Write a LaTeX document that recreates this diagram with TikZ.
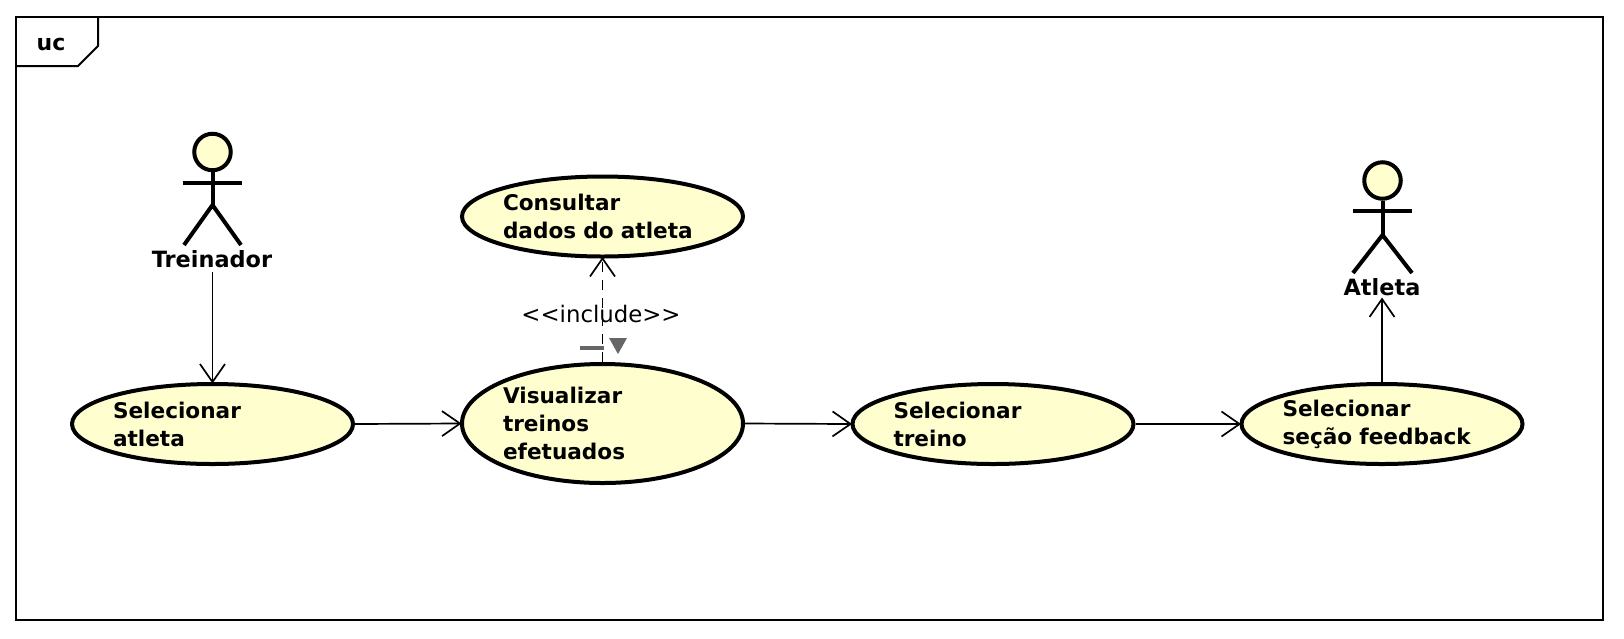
\documentclass[tikz,border=0pt]{standalone}
\usepackage{fontspec}
\setmainfont{DejaVu Sans}
\usetikzlibrary{shapes.geometric,arrows.meta}
\definecolor{ucfill}{HTML}{FEFECE}
\definecolor{markgray}{HTML}{666666}
\tikzset{
  x=1pt,y=-1pt,
  usecase/.style={ellipse,draw=black,line width=4pt,fill=ucfill,inner xsep=-1.5pt,inner ysep=0pt,
    text width=199pt,align=left,minimum width=281pt,font=\fontsize{21.6}{28}\selectfont\bfseries},
  two/.style={minimum height=80pt},
  three/.style={minimum height=119pt},
  head/.style={circle,draw=black,line width=4pt,fill=ucfill,minimum size=36.5pt,inner sep=0pt},
  limb/.style={line width=4pt,draw=black},
  actorname/.style={font=\fontsize{22.4}{26}\selectfont\bfseries,inner sep=0pt,minimum height=24pt},
  flow/.style={line width=1.7pt,draw=black,shorten >=-1.5pt,-{Straight Barb[length=18pt,width=25pt,line width=1.7pt]}},
  frameline/.style={line width=2pt,draw=black}
}
\begin{document}
\begin{tikzpicture}
\useasboundingbox (0,0) rectangle (1624,638);
\fill[white] (0,0) rectangle (1624,638);
\draw[frameline] (16,17) rectangle (1603,620);
\draw[frameline] (16,66) -- (78,66) -- (98,46) -- (98,17);
\node[font=\fontsize{22}{26}\selectfont\bfseries,inner sep=0pt] (ftitle) at (51,44) {uc};

\node[usecase,two] (atl) at (212.5,424) {Selecionar\\atleta};
\node[usecase,three] (vis) at (602.5,423.5) {Visualizar\\treinos\\efetuados};
\node[usecase,two] (con) at (602.5,216.5) {Consultar\\dados do atleta};
\node[usecase,two] (tre) at (993,424) {Selecionar\\treino};
\node[usecase,two] (fee) at (1382,424) {Selecionar\\seção feedback};

% Treinador
\node[head] (h1) at (212.5,152) {};
\coordinate (hip1) at (212.5,205);
\draw[limb] (h1.south) -- (hip1);
\draw[limb] (183,183) -- (242,183);
\draw[limb] (184,245) -- (hip1) -- (241,245);
\node[actorname] (treinador) at (212,259) {Treinador};

% Atleta
\node[head] (h2) at (1382.5,180.5) {};
\coordinate (hip2) at (1382.5,235);
\draw[limb] (h2.south) -- (hip2);
\draw[limb] (1353,211) -- (1412,211);
\draw[limb] (1353,273) -- (hip2) -- (1412,273);
\node[actorname] (atleta) at (1382,287) {Atleta};

\draw[flow] (212.5,272) -- (atl.north);
\draw[flow] (atl.east) -- (vis.west);
\draw[flow] (vis.east) -- (tre.west);
\draw[flow] (tre.east) -- (fee.west);
\draw[flow] (fee.north) -- (1382,299);
\draw[flow,dash pattern=on 10pt off 8pt] (vis.north) -- (con.south);

\node[font=\fontsize{22.8}{26}\selectfont,inner sep=0pt] (inc) at (601,314) {<{}<include>{}>};
\draw[line width=4pt,draw=markgray] (580,348) -- (604,348);
\fill[markgray] (609,338) -- (627,338) -- (618,354) -- cycle;
\end{tikzpicture}
\end{document}
